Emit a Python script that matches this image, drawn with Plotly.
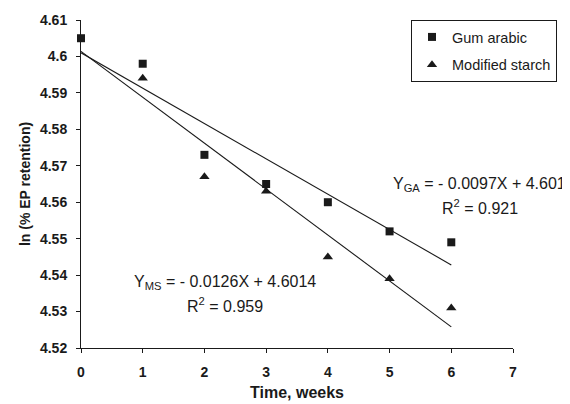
import plotly.graph_objects as go

weeks = [0, 1, 2, 3, 4, 5, 6]
gum_arabic = [4.605, 4.598, 4.573, 4.565, 4.560, 4.552, 4.549]
ms_weeks = [1, 2, 3, 4, 5, 6]
modified_starch = [4.594, 4.567, 4.563, 4.545, 4.539, 4.531]
ga_slope, ga_int = -0.0097, 4.601
ms_slope, ms_int = -0.0126, 4.6014
fit_x = [0, 6]
y_ticks = [4.52, 4.53, 4.54, 4.55, 4.56, 4.57, 4.58, 4.59, 4.60, 4.61]
y_tick_text = ["4.52", "4.53", "4.54", "4.55", "4.56", "4.57", "4.58", "4.59", "4.6", "4.61"]
x_ticks = [0, 1, 2, 3, 4, 5, 6, 7]

black = "#1a1a1a"
font_fam = "Liberation Sans, Arial, sans-serif"

fig = go.Figure()
fig.add_trace(go.Scatter(x=fit_x, y=[ga_int + ga_slope * x for x in fit_x], mode="lines",
                         line=dict(color=black, width=1.1), showlegend=False, hoverinfo="skip"))
fig.add_trace(go.Scatter(x=fit_x, y=[ms_int + ms_slope * x for x in fit_x], mode="lines",
                         line=dict(color=black, width=1.1), showlegend=False, hoverinfo="skip"))
fig.add_trace(go.Scatter(x=weeks, y=gum_arabic, mode="markers", name="Gum arabic", legendgroup="ga",
                         marker=dict(symbol="square", size=8, color=black), cliponaxis=False))
fig.add_trace(go.Scatter(x=ms_weeks, y=modified_starch, mode="markers", name="Modified starch",
                         legendgroup="ms",
                         marker=dict(symbol="triangle-up", size=9, color=black), cliponaxis=False))

# page body margin of the browser shifts the figure by 8 px
OFF = 8
W, H = 562, 396
L, T = 81 - OFF, 20 - OFF
pw, ph = 432, 328
R, B = W - L - pw, H - T - ph


def px_to_paper(px, py):
    return (px - OFF - L) / pw, (T + ph - (py - OFF)) / ph


anns = []
for text, (px, py) in [
    ("Y<sub>GA</sub> = - 0.0097X + 4.601", (479, 184)),
    ("R<sup>2</sup> = 0.921", (480, 207)),
    ("Y<sub>MS</sub> = - 0.0126X + 4.6014", (225, 282)),
    ("R<sup>2</sup> = 0.959", (225, 305)),
]:
    xp, yp = px_to_paper(px, py)
    anns.append(dict(x=xp, y=yp, xref="paper", yref="paper", text=text, showarrow=False,
                     font=dict(size=16, family=font_fam, color=black),
                     xanchor="center", yanchor="middle"))

lx, ly = px_to_paper(411, 20)
fig.update_layout(
    width=W, height=H,
    margin=dict(l=L, r=R, t=T, b=B),
    paper_bgcolor="white", plot_bgcolor="white",
    font=dict(family=font_fam, color=black),
    legend=dict(x=lx, y=ly, xanchor="left", yanchor="top",
                bordercolor=black, borderwidth=1, font=dict(size=14.5),
                tracegroupgap=6, itemwidth=30),
    xaxis=dict(range=[0, 7], tickvals=x_ticks, automargin=False,
               showgrid=False, zeroline=False, showline=True, linecolor=black, linewidth=1,
               ticks="outside", ticklen=4, tickcolor=black,
               tickfont=dict(size=14, family=font_fam, weight="bold"),
               ticklabelstandoff=7,
               title=dict(text="<b>Time, weeks</b>", font=dict(size=16), standoff=8)),
    yaxis=dict(range=[4.52, 4.61], tickvals=y_ticks, ticktext=y_tick_text, automargin=False,
               showgrid=False, zeroline=False, showline=True, linecolor=black, linewidth=1,
               ticks="outside", ticklen=4, tickcolor=black,
               tickfont=dict(size=14, family=font_fam, weight="bold"),
               ticklabelstandoff=6,
               title=dict(text="<b>ln (% EP retention)</b>", font=dict(size=14), standoff=6)),
    annotations=anns,
)

fig.write_html("out.html")
